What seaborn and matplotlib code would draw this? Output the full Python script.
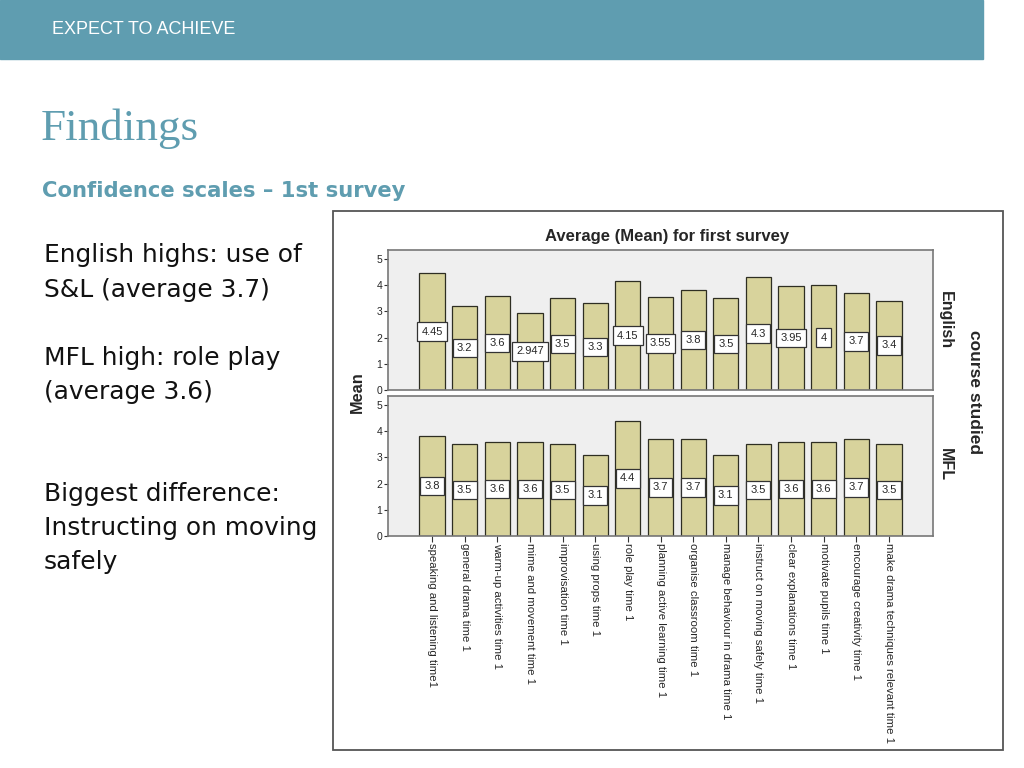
import pandas as pd
import seaborn as sns
import matplotlib.pyplot as plt
from matplotlib.patches import Rectangle

# Data
items = [
    "speaking and listening time1", "general drama time 1", "warm-up activities time 1",
    "mime and movement time 1", "improvisation time 1", "using props time 1",
    "role play time 1", "planning active learning time 1", "organise classroom time 1",
    "manage behaviour in drama time 1", "instruct on moving safely time 1",
    "clear explanations time 1", "motivate pupils time 1", "encourage creativity time 1",
    "make drama techniques relevant time 1",
]
english_mean = [4.45, 3.2, 3.6, 2.947, 3.5, 3.3, 4.15, 3.55, 3.8, 3.5, 4.3, 3.95, 4, 3.7, 3.4]
mfl_mean = [3.8, 3.5, 3.6, 3.6, 3.5, 3.1, 4.4, 3.7, 3.7, 3.1, 3.5, 3.6, 3.6, 3.7, 3.5]
groups = ["English", "MFL"]

teal = "#5f9db0"
bar_color = "#d8d39c"

sns.set_style("white")
W, H = 1024, 768
fig = plt.figure(figsize=(W / 100, H / 100), dpi=100)


def fx(px):
    return px / W


def fy(py):
    return 1 - py / H


# slide header and text
fig.patches.append(Rectangle((0, fy(59)), fx(983), 59 / H, transform=fig.transFigure,
                             color=teal, zorder=-2))
fig.text(fx(52), fy(30), "EXPECT TO ACHIEVE", color="white", fontsize=13,
         family="Liberation Sans", va="center")
fig.text(fx(41), fy(129), "Findings", color=teal, fontsize=32.5,
         family="Liberation Serif", va="center")
fig.text(fx(42), fy(191), "Confidence scales \u2013 1st survey", color=teal, fontsize=15.2,
         family="DejaVu Sans", weight="bold", va="center")

left_lines = [("English highs: use of", 255), ("S&L (average 3.7)", 290),
              ("MFL high: role play", 358), ("(average 3.6)", 392),
              ("Biggest difference:", 494), ("Instructing on moving", 528), ("safely", 562)]
for txt, py in left_lines:
    fig.text(fx(44), fy(py), txt, fontsize=17.9, family="DejaVu Sans", color="#111111",
             va="center")

# chart frame
fig.patches.append(Rectangle((fx(333), fy(750)), fx(1003 - 333), (750 - 211) / H,
                             transform=fig.transFigure, facecolor="white",
                             edgecolor="#555555", lw=1.3, zorder=-1))
fig.text(fx(667), fy(237), "Average (Mean) for first survey", fontsize=12,
         family="Liberation Sans", weight="bold", ha="center", va="center")

panels = [(english_mean, 250, 390), (mfl_mean, 396, 536)]
axes = []
for values, top, bottom in panels:
    ax = fig.add_axes([fx(388), fy(bottom), fx(933 - 388), (bottom - top) / H])
    df = pd.DataFrame({"item": items, "mean": values})
    sns.barplot(data=df, x="item", y="mean", color=bar_color, saturation=1,
                edgecolor="#2e2e22", linewidth=0.9, width=0.77, ax=ax)
    ax.bar_label(ax.containers[0], labels=[f"{v:g}" for v in values], label_type="center",
                 fontsize=8, family="Liberation Sans",
                 bbox=dict(facecolor="white", edgecolor="#333333", lw=0.9, pad=3))
    ax.set_facecolor("#efefef")
    ax.set_xlim(-1.35, 15.35)
    ax.set_ylim(0, 5.34)
    ax.set_yticks(range(6))
    ax.tick_params(axis="y", left=True, length=3, width=0.8, labelsize=7.5, pad=1,
                   color="#333333")
    for t in ax.get_yticklabels():
        t.set_family("Liberation Sans")
    for s in ax.spines.values():
        s.set_color("#777777")
        s.set_linewidth(1.2)
    ax.set_xlabel("")
    ax.set_ylabel("")
    axes.append(ax)

axes[0].set_xticks(range(len(items)))
axes[0].tick_params(axis="x", bottom=False, labelbottom=False)
axes[1].set_xticks(range(len(items)))
axes[1].set_xticklabels(items, rotation=270, fontsize=8.2, family="Liberation Sans",
                        va="top", ha="center")
axes[1].tick_params(axis="x", bottom=True, length=4, width=0.8, pad=1, color="#333333")

# panel and axis titles
fig.text(fx(945), fy(320), groups[0], rotation=270, fontsize=11.5, weight="bold",
         family="Liberation Sans", ha="center", va="center")
fig.text(fx(945), fy(465), groups[1], rotation=270, fontsize=11.5, weight="bold",
         family="Liberation Sans", ha="center", va="center")
fig.text(fx(975), fy(392), "course studied", rotation=270, fontsize=12.5,
         weight="bold", family="Liberation Sans", ha="center", va="center")
fig.text(fx(357), fy(392), "Mean", rotation=90, fontsize=11.8, weight="bold",
         family="Liberation Sans", ha="center", va="center")

fig.savefig("out.png", dpi=100)
